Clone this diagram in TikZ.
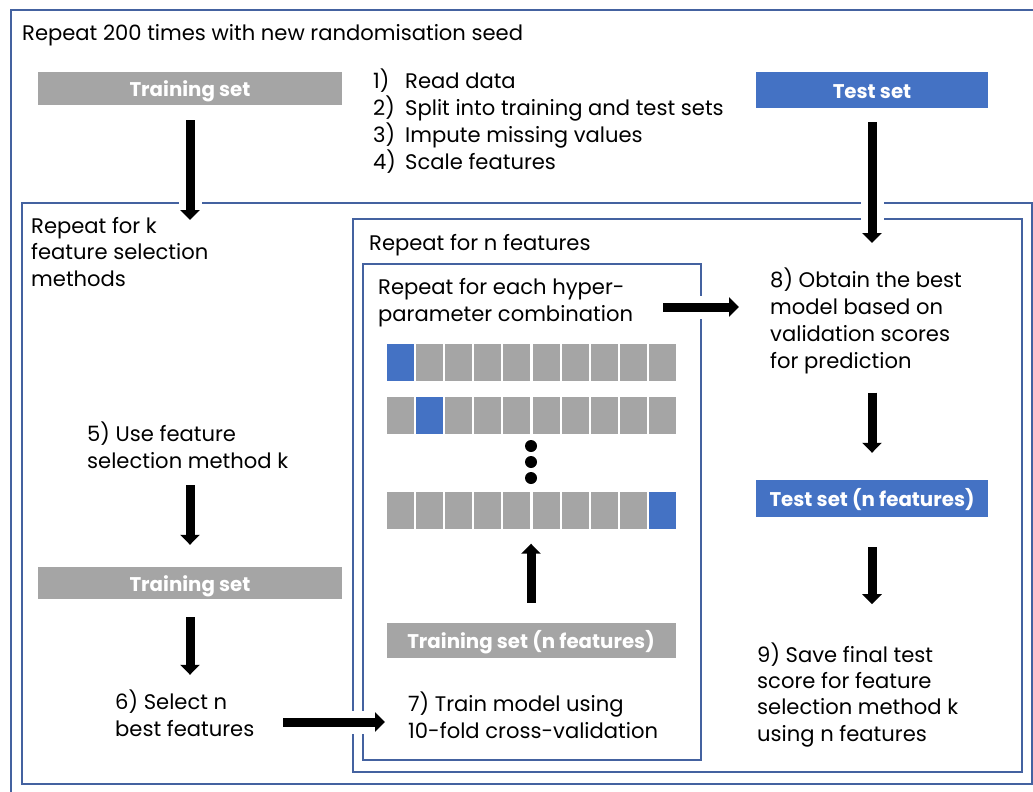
\documentclass[tikz,border=0pt]{standalone}
\usepackage{fontspec}
\setmainfont{Poppins}
\usetikzlibrary{positioning,arrows.meta}
\definecolor{framecol}{RGB}{68,98,160}
\definecolor{boxgray}{HTML}{A5A5A5}
\definecolor{boxblue}{HTML}{4472C4}

\begin{document}
\begin{tikzpicture}[x=1pt,y=-1pt,
  txt/.style={anchor=base west,inner sep=0,align=left,font=\fontsize{21.1}{26.3}\selectfont},
  setbox/.style={inner sep=0,text=white,text height=16pt,text depth=0pt,font=\fontsize{19.8}{22}\selectfont\bfseries},
  graybox/.style={setbox,fill=boxgray},
  bluebox/.style={setbox,fill=boxblue},
  frame/.style={draw=framecol,line width=1.5pt},
  fold/.style={minimum width=27pt,minimum height=37pt,inner sep=0},
  arr/.style={line width=9pt,-{Triangle[width=19pt,length=10pt]},preaction={draw=white,line width=23pt,-}}]
\useasboundingbox (0,0) rectangle (1033,792);
\begin{scope}
\clip (0,0) rectangle (1033,792);
\draw[frame] (11,10) rectangle (1045,805);
\end{scope}
\draw[frame] (22,203) rectangle (1032,784);
\draw[frame] (353,219) rectangle (1022,772);
\draw[frame] (363,264) rectangle (701,760);

\node[txt] (seed) at (22,41) {Repeat 200 times with new randomisation seed};
\node[txt,font=\fontsize{21.1}{26.7}\selectfont] (steps) at (373,169)
  {\makebox[32pt][l]{1)}Read data\\\makebox[32pt][l]{2)}Split into training and test sets\\
   \makebox[32pt][l]{3)}Impute missing values\\\makebox[32pt][l]{4)}Scale features};
\node[graybox,minimum width=304pt,minimum height=33pt] (train) at (190,88.5) {Training set};
\node[bluebox,minimum width=232pt,minimum height=36pt] (test) at (872,90) {Test set};

\node[txt] (kloop) at (31,286) {Repeat for k\\feature selection\\methods};
\node[txt] (nloop) at (369,250) {Repeat for n features};
\node[txt] (hyper) at (378,321) {Repeat for each hyper-\\parameter combination};
\node[txt,font=\fontsize{21.1}{26.7}\selectfont] (best) at (770,368) {8) Obtain the best\\model based on\\validation scores\\for prediction};
\node[bluebox,minimum width=232pt,minimum height=37pt] (testn) at (872,498.5) {Test set (n features)};
\node[txt] (save) at (757,741) {9) Save final test\\score for feature\\selection method k\\using n features};

\node[txt] (usek) at (87,468) {5) Use feature\\selection method k};
\node[graybox,minimum width=304pt,minimum height=32pt] (train2) at (190,583) {Training set};
\node[txt] (select) at (115,736) {6) Select n\\best features};

\foreach \r/\y/\h in {1/362.5/1,2/415.5/2,3/510/10}{
  \foreach \c in {1,...,10}{
    \ifnum\c=\h \def\col{boxblue}\else\def\col{boxgray}\fi
    \node[fold,fill=\col] (f\r-\c) at ({400.5+(\c-1)*29.1},\y) {};
  }}
\foreach \i/\y in {1/446,2/462,3/478}
  \node[circle,fill=black,inner sep=0,minimum size=12pt] (dot\i) at (531,\y) {};
\node[graybox,minimum width=289pt,minimum height=35pt] (trainn) at (531,640.5) {Training set (n features)};
\node[txt] (trainm) at (408,738) {7) Train model using\\10-fold cross-validation};

\coordinate (kin) at (190,220);
\coordinate (tin) at (872,243);
\coordinate (hout) at (663,307);
\coordinate (selout) at (283,722);
\draw[arr,shorten <=15pt] (train) -- (kin);
\draw[arr,shorten <=14pt] (test) -- (tin);
\draw[arr,shorten >=31pt] (hout) -- (hout -| best.west);
\draw[arr,shorten <=19pt,shorten >=27pt] (testn.north |- best.south) -- (testn.north);
\draw[arr,shorten <=30pt,shorten >=38pt] (testn.south) -- (testn.south |- save.north);
\draw[arr,shorten <=17pt,shorten >=22pt] (train2.north |- usek.south) -- (train2.north);
\draw[arr,shorten <=18pt,shorten >=15pt] (train2.south) -- (train2.south |- select.north);
\draw[arr,shorten >=23pt] (selout) -- (selout -| trainm.west);
\draw[arr,shorten <=20pt,shorten >=15pt] (trainn.north) -- (trainn.north |- f3-1.south);
\end{tikzpicture}
\end{document}
